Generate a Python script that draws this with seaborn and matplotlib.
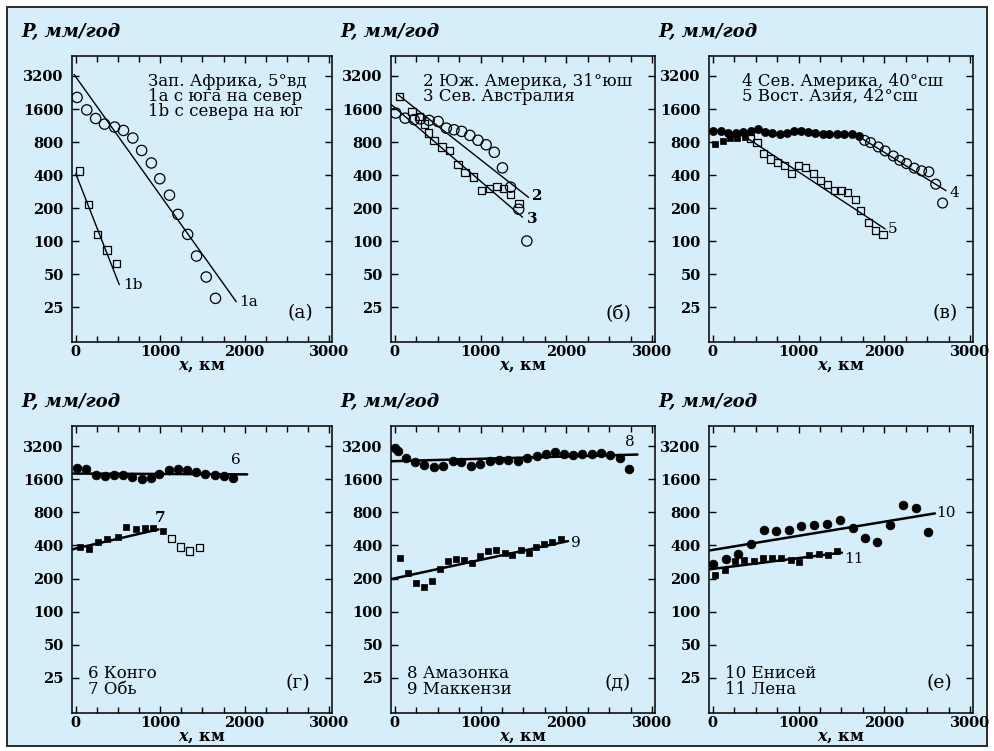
import matplotlib
matplotlib.use("Agg")
import numpy as np
import pandas as pd
import seaborn as sns
import matplotlib.pyplot as plt
from matplotlib.patches import Rectangle
from matplotlib.ticker import NullLocator, MultipleLocator

# ---------------- data (x in km, P in mm/yr) ----------------
y_ticks = [25, 50, 100, 200, 400, 800, 1600, 3200]
y_tick_labels = ["25", "50", "100", "200", "400", "800", "1600", "3200"]
x_ticks = [0, 1000, 2000, 3000]
x_tick_labels = ["0", "1000", "2000", "3000"]

# (а) West Africa
s1a_x = [15, 130, 235, 340, 460, 565, 675, 780, 895, 995, 1110, 1210, 1325, 1430, 1545, 1655]
s1a_p = [2040, 1570, 1310, 1165, 1095, 1020, 870, 670, 515, 370, 262, 175, 115, 73, 47, 30]
fit1a_x = [-20, 1900]
fit1a_p = [3300, 28]
s1b_x = [45, 150, 255, 370, 480]
s1b_p = [434, 216, 115, 83, 62]
fit1b_x = [0, 515]
fit1b_p = [410, 40]

# (б) South America / North Australia
s2_x = [10, 120, 225, 300, 400, 505, 600, 690, 780, 875, 970, 1065, 1160, 1255, 1350, 1445, 1540]
s2_p = [1470, 1320, 1280, 1300, 1260, 1230, 1070, 1035, 1000, 920, 830, 755, 645, 465, 310, 195, 100]
fit2_x = [40, 1560]
fit2_p = [2150, 250]
s3_x = [55, 200, 290, 345, 395, 455, 550, 635, 735, 820, 920, 1010, 1105, 1190, 1270, 1350, 1450]
s3_p = [2075, 1515, 1370, 1170, 965, 828, 720, 667, 499, 423, 384, 289, 300, 315, 300, 266, 220]
fit3_x = [-40, 1490]
fit3_p = [1750, 165]

# (в) North America / East Asia
s4f_x = [0, 95, 175, 265, 355, 440, 525, 605, 690, 780, 865, 950, 1030, 1115, 1195, 1280, 1360, 1445, 1530, 1620, 1700]
s4f_p = [1005, 1005, 970, 970, 990, 1005, 1052, 990, 970, 950, 970, 1000, 1000, 985, 970, 950, 940, 940, 940, 940, 910]
s4o_x = [1770, 1840, 1930, 2010, 2105, 2180, 2260, 2350, 2435, 2520, 2600, 2680]
s4o_p = [828, 790, 721, 663, 597, 545, 508, 462, 437, 428, 330, 222]
fit4_x = [1720, 2720]
fit4_p = [880, 288]
s5f_x = [30, 115, 200, 280, 370]
s5f_p = [775, 815, 870, 870, 885]
s5o_x = [435, 515, 595, 670, 755, 835, 920, 1000, 1085, 1170, 1260, 1335, 1415, 1495, 1570, 1660, 1725, 1815, 1900, 1985]
s5o_p = [865, 790, 627, 560, 516, 492, 414, 484, 468, 414, 359, 325, 291, 291, 279, 241, 191, 148, 125, 115]
fit5_x = [380, 2010]
fit5_p = [890, 129]

# (г) Congo / Ob
s6_x = [10, 115, 235, 340, 455, 560, 670, 780, 885, 990, 1105, 1215, 1320, 1425, 1535, 1650, 1760, 1865]
s6_p = [2030, 1990, 1765, 1705, 1730, 1753, 1680, 1610, 1645, 1785, 1920, 2000, 1920, 1865, 1800, 1765, 1705, 1645]
fit6_x = [-40, 2030]
fit6_p = [1800, 1770]
s7f_x = [45, 155, 260, 375, 495, 590, 710, 815, 920, 1030]
s7f_p = [390, 374, 432, 453, 476, 592, 560, 572, 572, 541]
s7o_x = [1130, 1240, 1350, 1460]
s7o_p = [460, 387, 356, 381]
fit7_x = [-40, 980]
fit7_p = [369, 560]

# (д) Amazon / Mackenzie
s8_x = [0, 40, 130, 240, 345, 460, 560, 675, 770, 890, 995, 1110, 1215, 1325, 1440, 1545, 1655, 1760, 1870, 1975, 2080, 2185, 2295, 2400, 2515, 2625, 2730]
s8_p = [3100, 2900, 2500, 2280, 2175, 2070, 2130, 2330, 2300, 2130, 2220, 2330, 2380, 2380, 2330, 2500, 2620, 2715, 2810, 2735, 2680, 2735, 2735, 2775, 2680, 2470, 1960]
fit8_x = [-40, 2830]
fit8_p = [2330, 2680]
s9_x = [55, 150, 250, 335, 435, 530, 615, 715, 810, 900, 995, 1090, 1185, 1285, 1370, 1470, 1560, 1650, 1740, 1835, 1935]
s9_p = [305, 227, 181, 168, 190, 246, 289, 299, 295, 279, 320, 355, 360, 339, 325, 360, 344, 389, 408, 428, 453]
fit9_x = [-40, 2020]
fit9_p = [198, 438]

# (е) Yenisei / Lena
s10_x = [0, 150, 295, 445, 595, 740, 885, 1030, 1185, 1330, 1485, 1630, 1775, 1920, 2065, 2220, 2365, 2510]
s10_p = [269, 303, 332, 409, 549, 541, 552, 600, 609, 626, 676, 572, 470, 432, 618, 942, 867, 534]
fit10_x = [-30, 2590]
fit10_p = [361, 782]
s11_x = [25, 140, 255, 360, 475, 580, 690, 800, 910, 1010, 1125, 1235, 1340, 1445]
s11_p = [216, 238, 289, 295, 289, 305, 310, 305, 293, 285, 327, 332, 325, 355]
fit11_x = [-30, 1505]
fit11_p = [243, 344]

# ---------------- style ----------------
sns.set_style("ticks")
plt.rcParams.update({
    "font.family": ["DejaVu Serif"],
    "mathtext.fontset": "custom",
    "mathtext.rm": "DejaVu Serif:bold",
    "mathtext.it": "DejaVu Serif:italic:bold",
    "mathtext.bf": "DejaVu Serif:bold",
    "axes.linewidth": 1.0,
    "axes.edgecolor": "black",
    "axes.labelcolor": "black",
    "text.color": "black",
    "xtick.color": "black",
    "ytick.color": "black",
})

BG = "#d6eefa"
W, H = 994, 751
fig = plt.figure(figsize=(W / 100, H / 100), dpi=100, facecolor="white")
fig.patches.append(Rectangle((7 / W, 1 - 746 / H), (987 - 7) / W, (746 - 7) / H,
                             transform=fig.transFigure, facecolor=BG,
                             edgecolor="#2a2a2a", lw=1.4, zorder=-5))

rows = [(56, 342), (426, 713)]
cols = [(72, 260), (391, 264), (709, 264)]


def make_ax(r, c):
    top, bot = rows[r]
    left, w = cols[c]
    ax = fig.add_axes([left / W, 1 - bot / H, w / W, (bot - top) / H])
    ax.set_facecolor("none")
    return ax


def setup(ax, r, c):
    ax.set_yscale("log", base=2)
    ax.set_ylim(12, 4870)
    ax.set_xlim(-45, 3035)
    ax.set_yticks(y_ticks, y_tick_labels, fontsize=10.5, fontweight="bold")
    ax.set_xticks(x_ticks, x_tick_labels, fontsize=10.5, fontweight="bold")
    ax.yaxis.set_minor_locator(NullLocator())
    ax.xaxis.set_minor_locator(MultipleLocator(250))
    ax.tick_params(which="both", direction="in", top=True, right=True, width=1.0)
    ax.tick_params(which="major", length=5)
    ax.tick_params(which="minor", length=4)
    ax.tick_params(axis="y", pad=6)
    ax.tick_params(axis="x", pad=2)
    ax.set_xlabel("$x$, км", fontsize=11.5, fontweight="bold", labelpad=-1.5)
    ax.set_ylabel("")
    for s in ax.spines.values():
        s.set_visible(True)
        s.set_linewidth(1.1)
    top, bot = rows[r]
    left, w = cols[c]
    fig.text((left - 51) / W, 1 - (top - 24) / H, "P, мм/год", fontsize=13,
             fontweight="bold", fontstyle="italic", ha="left", va="center")


def open_pts(ax, x, y, marker, s):
    sns.scatterplot(x=x, y=y, ax=ax, marker=marker, s=s, facecolor="none",
                    edgecolor="black", linewidth=0.9, zorder=3)


def filled_pts(ax, x, y, marker, s):
    sns.scatterplot(x=x, y=y, ax=ax, marker=marker, s=s, color="black",
                    edgecolor="black", linewidth=0.5, zorder=3)


def fit_line(ax, x, y, lw):
    sns.lineplot(x=x, y=y, ax=ax, color="black", lw=lw, zorder=2)


TXT = 12
NUM = 11
LAB = 13.5

# (а)
ax = make_ax(0, 0)
open_pts(ax, s1a_x, s1a_p, "o", 55)
open_pts(ax, s1b_x, s1b_p, "s", 28)
fit_line(ax, fit1a_x, fit1a_p, 1.0)
fit_line(ax, fit1b_x, fit1b_p, 1.0)
setup(ax, 0, 0)
ax.text(1940, 28, "1a", fontsize=NUM, ha="left", va="center")
ax.text(555, 40, "1b", fontsize=NUM, ha="left", va="center")
ax.text(0.292, 0.94, "Зап. Африка, 5°вд", transform=ax.transAxes, fontsize=TXT, va="top")
ax.text(0.292, 0.887, "1a с юга на север", transform=ax.transAxes, fontsize=TXT, va="top")
ax.text(0.292, 0.834, "1b с севера на юг", transform=ax.transAxes, fontsize=TXT, va="top")
ax.text(0.88, 0.10, "(а)", transform=ax.transAxes, fontsize=LAB, ha="center", va="center")

# (б)
ax = make_ax(0, 1)
open_pts(ax, s2_x, s2_p, "o", 55)
open_pts(ax, s3_x, s3_p, "s", 28)
fit_line(ax, fit2_x, fit2_p, 1.0)
fit_line(ax, fit3_x, fit3_p, 1.0)
setup(ax, 0, 1)
ax.text(1600, 255, "2", fontsize=NUM, ha="left", va="center", fontweight="bold")
ax.text(1545, 160, "3", fontsize=NUM, ha="left", va="center", fontweight="bold")
ax.text(0.12, 0.94, "2 Юж. Америка, 31°юш", transform=ax.transAxes, fontsize=TXT, va="top")
ax.text(0.12, 0.887, "3 Сев. Австралия", transform=ax.transAxes, fontsize=TXT, va="top")
ax.text(0.86, 0.10, "(б)", transform=ax.transAxes, fontsize=LAB, ha="center", va="center")

# (в)
ax = make_ax(0, 2)
filled_pts(ax, s4f_x, s4f_p, "o", 34)
open_pts(ax, s4o_x, s4o_p, "o", 50)
filled_pts(ax, s5f_x, s5f_p, "s", 20)
open_pts(ax, s5o_x, s5o_p, "s", 26)
fit_line(ax, fit4_x, fit4_p, 1.0)
fit_line(ax, fit5_x, fit5_p, 1.0)
setup(ax, 0, 2)
ax.text(2760, 275, "4", fontsize=NUM, ha="left", va="center")
ax.text(2040, 128, "5", fontsize=NUM, ha="left", va="center")
ax.text(0.124, 0.94, "4 Сев. Америка, 40°сш", transform=ax.transAxes, fontsize=TXT, va="top")
ax.text(0.124, 0.887, "5 Вост. Азия, 42°сш", transform=ax.transAxes, fontsize=TXT, va="top")
ax.text(0.894, 0.10, "(в)", transform=ax.transAxes, fontsize=LAB, ha="center", va="center")

# (г)
ax = make_ax(1, 0)
filled_pts(ax, s6_x, s6_p, "o", 40)
filled_pts(ax, s7f_x, s7f_p, "s", 22)
open_pts(ax, s7o_x, s7o_p, "s", 26)
fit_line(ax, fit6_x, fit6_p, 1.8)
fit_line(ax, fit7_x, fit7_p, 1.8)
setup(ax, 1, 0)
ax.text(1895, 2080, "6", fontsize=NUM, ha="center", va="bottom")
ax.text(1000, 610, "7", fontsize=NUM, ha="center", va="bottom", fontweight="bold")
ax.text(0.063, 0.168, "6 Конго", transform=ax.transAxes, fontsize=TXT, va="top")
ax.text(0.063, 0.113, "7 Обь", transform=ax.transAxes, fontsize=TXT, va="top")
ax.text(0.87, 0.105, "(г)", transform=ax.transAxes, fontsize=LAB, ha="center", va="center")

# (д)
ax = make_ax(1, 1)
filled_pts(ax, s8_x, s8_p, "o", 40)
filled_pts(ax, s9_x, s9_p, "s", 22)
fit_line(ax, fit8_x, fit8_p, 1.8)
fit_line(ax, fit9_x, fit9_p, 1.8)
setup(ax, 1, 1)
ax.text(2740, 3000, "8", fontsize=NUM, ha="center", va="bottom")
ax.text(2050, 425, "9", fontsize=NUM, ha="left", va="center")
ax.text(0.06, 0.168, "8 Амазонка", transform=ax.transAxes, fontsize=TXT, va="top")
ax.text(0.06, 0.113, "9 Маккензи", transform=ax.transAxes, fontsize=TXT, va="top")
ax.text(0.86, 0.105, "(д)", transform=ax.transAxes, fontsize=LAB, ha="center", va="center")

# (е)
ax = make_ax(1, 2)
filled_pts(ax, s10_x, s10_p, "o", 40)
filled_pts(ax, s11_x, s11_p, "s", 22)
fit_line(ax, fit10_x, fit10_p, 1.8)
fit_line(ax, fit11_x, fit11_p, 1.8)
setup(ax, 1, 2)
ax.text(2610, 785, "10", fontsize=NUM, ha="left", va="center")
ax.text(1530, 300, "11", fontsize=NUM, ha="left", va="center")
ax.text(0.061, 0.168, "10 Енисей", transform=ax.transAxes, fontsize=TXT, va="top")
ax.text(0.061, 0.113, "11 Лена", transform=ax.transAxes, fontsize=TXT, va="top")
ax.text(0.871, 0.105, "(е)", transform=ax.transAxes, fontsize=LAB, ha="center", va="center")

fig.savefig("out.png", dpi=100, facecolor="white")
